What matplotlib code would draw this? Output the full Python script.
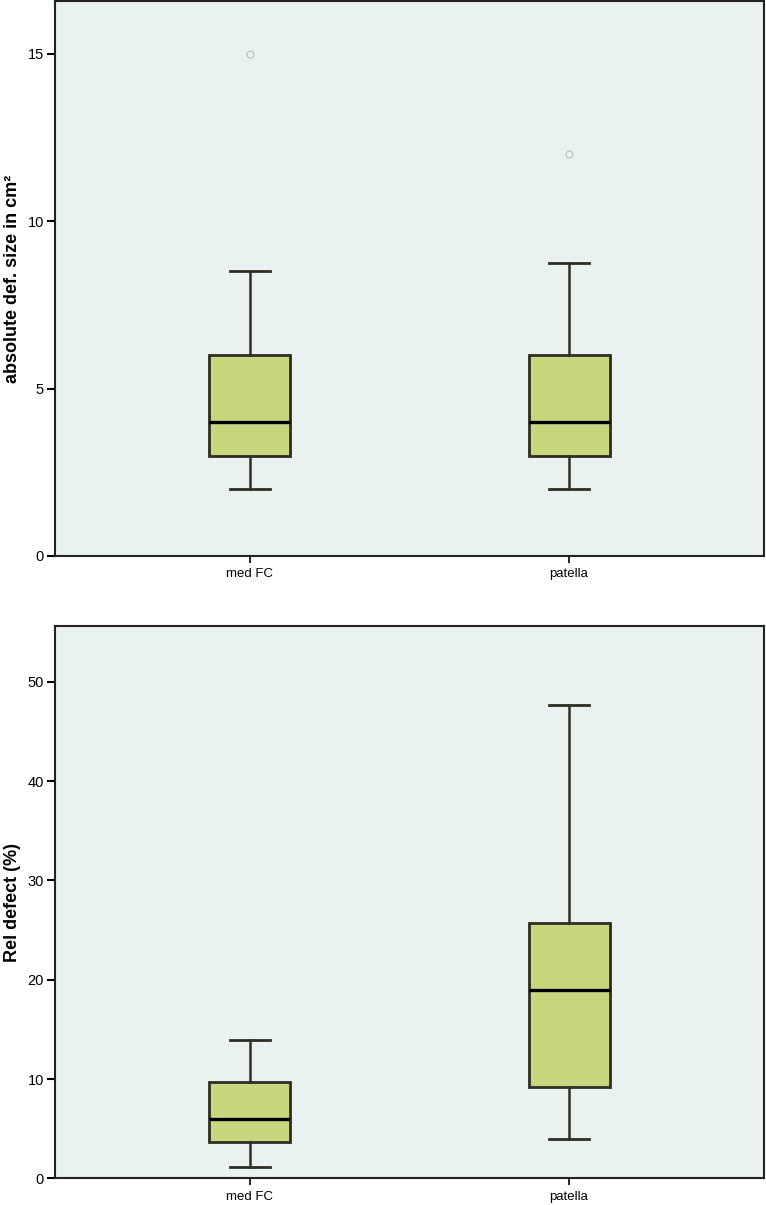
import matplotlib
matplotlib.use("Agg")
import matplotlib.pyplot as plt

# categorie e statistiche dei box
categories = ["med FC", "patella"]

# pannello superiore: dimensione assoluta del difetto (cm²)
abs_whislo = [2.0, 2.0]
abs_q1 = [3.0, 3.0]
abs_med = [4.0, 4.0]
abs_q3 = [6.0, 6.0]
abs_whishi = [8.5, 8.75]
abs_fliers = [[15.0], [12.0]]

# pannello inferiore: difetto relativo (%)
rel_whislo = [1.2, 3.95]
rel_q1 = [3.65, 9.25]
rel_med = [6.0, 18.95]
rel_q3 = [9.7, 25.7]
rel_whishi = [13.9, 47.6]
rel_fliers = [[], []]

BG = "#e9f2ef"
BOX = "#c8d67e"
EDGE = "#2e2e22"


def make_stats(lo, q1, med, q3, hi, fl):
    return [dict(label=c, whislo=lo[i], q1=q1[i], med=med[i], q3=q3[i],
                 whishi=hi[i], fliers=fl[i]) for i, c in enumerate(categories)]


def draw_panel(ax, stats, ylim, yticks, ylabel):
    ax.set_facecolor(BG)
    ax.bxp(stats, positions=[1, 2], widths=0.254, patch_artist=True,
           showfliers=True,
           boxprops=dict(facecolor=BOX, edgecolor=EDGE, linewidth=2.0),
           medianprops=dict(color="black", linewidth=2.4),
           whiskerprops=dict(color=EDGE, linewidth=1.8),
           capprops=dict(color=EDGE, linewidth=2.0),
           capwidths=0.125,
           flierprops=dict(marker="o", markersize=5, markerfacecolor="none",
                           markeredgecolor="#b8c0c0", markeredgewidth=0.8))
    ax.set_xlim(0.389, 2.611)
    ax.set_ylim(*ylim)
    ax.set_yticks(yticks)
    ax.set_xticks([1, 2])
    ax.set_xticklabels(categories, fontsize=9.5, family="Liberation Sans")
    for lab in ax.get_yticklabels():
        lab.set_family("Liberation Sans")
        lab.set_fontsize(10.5)
    ax.tick_params(axis="y", direction="out", length=6, width=1.5, pad=2)
    ax.tick_params(axis="x", direction="out", length=5, width=1.2, pad=4)
    for sp in ax.spines.values():
        sp.set_color("#222222")
        sp.set_linewidth(1.5)
    ax.set_ylabel(ylabel, fontsize=13, fontweight="bold",
                  family="Liberation Sans", labelpad=5)


fig = plt.figure(figsize=(7.66, 12.05), dpi=100)
ax1 = fig.add_axes([0.0718, 0.5386, 0.9256, 0.4606])
ax2 = fig.add_axes([0.0718, 0.022, 0.9256, 0.4585])

draw_panel(ax1, make_stats(abs_whislo, abs_q1, abs_med, abs_q3, abs_whishi, abs_fliers),
           (0, 16.57), [0, 5, 10, 15], "absolute def. size in cm²")
draw_panel(ax2, make_stats(rel_whislo, rel_q1, rel_med, rel_q3, rel_whishi, rel_fliers),
           (0, 55.6), [0, 10, 20, 30, 40, 50], "Rel defect (%)")

fig.savefig("out.png", dpi=100)
